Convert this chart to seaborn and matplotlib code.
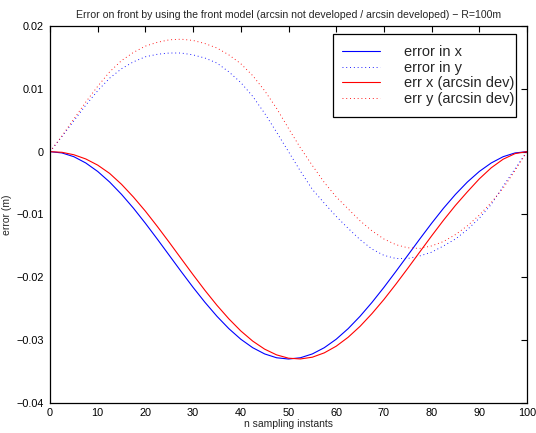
import matplotlib
matplotlib.use("Agg")
import matplotlib.pyplot as plt
from matplotlib.patches import Rectangle
import seaborn as sns
from matplotlib.ticker import FuncFormatter, MultipleLocator

# ---- data ----
n = [0, 2.5, 5, 7.5, 10, 12.5, 15, 17.5, 20, 22.5, 25, 27.5, 30, 32.5, 35, 37.5, 40,
     42.5, 45, 47.5, 50, 52.5, 55, 57.5, 60, 62.5, 65, 67.5, 70, 72.5, 75, 77.5, 80,
     82.5, 85, 87.5, 90, 92.5, 95, 97.5, 100]
err_x = [0, -0.0002, -0.0008, -0.0018, -0.00315, -0.00483, -0.0068, -0.0090, -0.0114,
         -0.01392, -0.0165, -0.01908, -0.0216, -0.02399, -0.0262, -0.02817, -0.02985,
         -0.0312, -0.03219, -0.0328, -0.0330, -0.0328, -0.03219, -0.0312, -0.02985,
         -0.02817, -0.0262, -0.02399, -0.0216, -0.01908, -0.0165, -0.01392, -0.0114,
         -0.0090, -0.0068, -0.00483, -0.00315, -0.0018, -0.0008, -0.0002, 0]
err_y = [0, 0.0024, 0.0049, 0.0074, 0.0097, 0.0117, 0.0132, 0.0143, 0.0151, 0.0155,
         0.0157, 0.0157, 0.0154, 0.0149, 0.0141, 0.0127, 0.0110, 0.0088, 0.0061, 0.0031,
         0.0000, -0.0031, -0.0060, -0.0082, -0.0103, -0.0122, -0.0140, -0.0155, -0.0165,
         -0.0170, -0.0170, -0.0166, -0.0160, -0.0150, -0.0139, -0.0124, -0.0106, -0.0084,
         -0.0055, -0.0027, 0]
err_x_dev = [0, -0.0001, -0.00049, -0.00116, -0.00214, -0.00346, -0.0052, -0.00723,
             -0.00947, -0.0119, -0.01443, -0.01702, -0.01959, -0.02209, -0.02445,
             -0.02661, -0.02853, -0.03015, -0.03143, -0.03234, -0.03287, -0.03299,
             -0.03271, -0.03202, -0.03096, -0.02954, -0.0278, -0.02577, -0.02353,
             -0.0211, -0.01857, -0.01598, -0.01341, -0.01091, -0.00855, -0.00639,
             -0.00433, -0.00257, -0.0012, -0.00031, 0]
err_y_dev = [0, 0.0025, 0.0052, 0.0079, 0.0104, 0.0127, 0.0145, 0.0158, 0.0168, 0.0174,
             0.0178, 0.0179, 0.0177, 0.0172, 0.0165, 0.0154, 0.0140, 0.0121, 0.0097,
             0.0069, 0.0037, 0.0006, -0.0022, -0.0049, -0.0072, -0.0091, -0.0110,
             -0.0126, -0.0139, -0.0148, -0.0153, -0.0154, -0.0150, -0.0143, -0.0132,
             -0.0118, -0.0101, -0.0081, -0.0058, -0.0030, 0]
series_labels = ["error in x", "error in y", "err x (arcsin dev)", "err y (arcsin dev)"]
title = "Error on front by using the front model (arcsin not developed / arcsin developed) \u2212 R=100m"
xlabel = "n sampling instants"
ylabel = "error (m)"

# ---- style ----
sns.set_style("white")
plt.rcParams['font.family'] = ['Liberation Sans', 'DejaVu Sans']

W, H = 536, 433
fig = plt.figure(figsize=(W / 100, H / 100), dpi=100)
L, R, T, B = 50, 527, 26, 403
ax = fig.add_axes([L / W, 1 - B / H, (R - L) / W, (B - T) / H])

dotted = (0, (1, 3.2))
styles = [("#0000ff", "-", 0.8), ("#0000ff", dotted, 0.65),
          ("#ff0000", "-", 0.8), ("#ff0000", dotted, 0.65)]
for vals, lab, (col, ls, lw) in zip([err_x, err_y, err_x_dev, err_y_dev], series_labels, styles):
    sns.lineplot(x=n, y=vals, ax=ax, color=col, label=lab, linewidth=lw,
                 linestyle=ls, legend=False)

ax.set_xlim(0, 100)
ax.set_ylim(-0.04, 0.02)
ax.xaxis.set_major_locator(MultipleLocator(10))
ax.yaxis.set_major_locator(MultipleLocator(0.01))


def yfmt(v, pos):
    if abs(v) < 1e-12:
        return "0"
    return f"{v:g}".replace("-", "\u2212")


ax.yaxis.set_major_formatter(FuncFormatter(yfmt))
ax.tick_params(direction="in", top=True, right=True, length=4, width=0.8,
               labelsize=7.8, colors="black", pad=3.5)
ax.tick_params(axis="y", pad=4.5)
for sp in ax.spines.values():
    sp.set_color("black")
    sp.set_linewidth(0.9)
    sp.set_visible(True)

ax.set_title(title, fontsize=7.6, pad=6)
ax.set_xlabel(xlabel, fontsize=7.5, labelpad=1)
ax.set_ylabel(ylabel, fontsize=7.5, labelpad=3)

# legend box (MATLAB style, drawn as a plain rectangle)
bx0, bx1, by0, by1 = 333, 516, 34, 117
ax.add_patch(Rectangle((bx0 / W, 1 - by1 / H), (bx1 - bx0) / W, (by1 - by0) / H,
                       transform=fig.transFigure, facecolor="white", edgecolor="black",
                       linewidth=0.9, zorder=4, clip_on=False))

handles, labels = ax.get_legend_handles_labels()
leg = ax.legend(handles, labels, loc="upper right",
                bbox_to_anchor=((514 - L) / (R - L), (B - 45.5) / (B - T)),
                borderaxespad=0, borderpad=0, fontsize=10.5, frameon=False,
                handlelength=2.6, handletextpad=1.65, labelspacing=0.1)
leg.set_zorder(6)

fig.savefig("out.png", dpi=100)
